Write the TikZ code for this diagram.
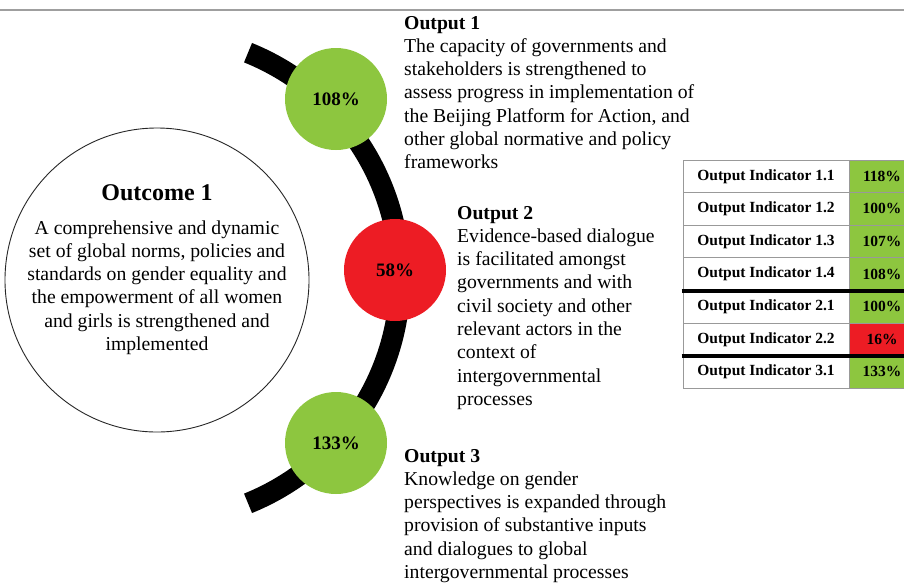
\documentclass[tikz,border=0pt]{standalone}
\usepackage{fontspec}
\setmainfont{Liberation Serif}
\definecolor{okgreen}{HTML}{8DC63F}
\definecolor{lowred}{HTML}{ED1C24}
\newcommand{\ctrline}[1]{\hbox to 300pt{\hfil #1\hfil}}
\begin{document}
\begin{tikzpicture}[x=1pt,y=-1pt,
  body/.style={anchor=base west, inner sep=0, font=\fontsize{19.7}{23.3}\selectfont},
  pct/.style={circle, minimum size=102pt, inner sep=0, font=\fontsize{19}{21}\selectfont\bfseries},
  lcell/.style={draw=gray!80, line width=0.8pt, minimum width=166pt, minimum height=32.6pt, inner sep=0, font=\fontsize{15.5}{17}\selectfont\bfseries},
  vcell/.style={draw=gray!80, line width=0.8pt, minimum width=66pt, minimum height=32.6pt, inner sep=0, font=\fontsize{15.5}{17}\selectfont\bfseries},
  thickrule/.style={line width=4.5pt, black},
  band/.style={line width=21pt, black}]
\useasboundingbox (0,0) rectangle (904,582);
\clip (0,0) rectangle (904,582);
\fill[white] (0,0) rectangle (904,582);
\draw[gray!75, line width=1.5pt] (0,10) -- (904,10);

% outcome circle
\node[circle, draw=black!85, line width=0.9pt, minimum size=304pt, inner sep=0] (outc) at (157,280) {};
\node[anchor=base, inner sep=0, font=\fontsize{24}{28}\selectfont\bfseries] (outt) at (157,200) {Outcome 1};
\node[anchor=base, inner sep=0, font=\fontsize{19.7}{23.3}\selectfont] (outb) at (157,234)
 {\vtop{\ctrline{A comprehensive and dynamic}\ctrline{set of global norms, policies and}\ctrline{standards on gender equality and}\ctrline{the empowerment of all women}\ctrline{and girls is strengthened and}\ctrline{implemented}}};

% arc band
\coordinate (arcC) at (157,278);
\draw[band] (arcC) ++(-68:243) arc[start angle=-68, end angle=68, radius=243];

% percentage circles
\node[pct, fill=okgreen] (p1) at (336,99) {108\%};
\node[pct, fill=lowred] (p2) at (395,270) {58\%};
\node[pct, fill=okgreen] (p3) at (336,443) {133\%};

% output texts
\node[body] (o1) at (404,29) {\vtop{\hbox{\bfseries Output 1}\hbox{The capacity of governments and}\hbox{stakeholders is strengthened to}\hbox{assess progress in implementation of}\hbox{the Beijing Platform for Action, and}\hbox{other global normative and policy}\hbox{frameworks}}};
\node[body] (o2) at (457,219) {\vtop{\hbox{\bfseries Output 2}\hbox{Evidence-based dialogue}\hbox{is facilitated amongst}\hbox{governments and with}\hbox{civil society and other}\hbox{relevant actors in the}\hbox{context of}\hbox{intergovernmental}\hbox{processes}}};
\node[body] (o3) at (404,462) {\vtop{\hbox{\bfseries Output 3}\hbox{Knowledge on gender}\hbox{perspectives is expanded through}\hbox{provision of substantive inputs}\hbox{and dialogues to global}\hbox{intergovernmental processes}}};

% table
\node[lcell] (l11) at (766,176.3) {Output Indicator 1.1};
\node[lcell] (l12) at (766,208.9) {Output Indicator 1.2};
\node[lcell] (l13) at (766,241.5) {Output Indicator 1.3};
\node[lcell] (l14) at (766,274.1) {Output Indicator 1.4};
\node[lcell] (l21) at (766,306.7) {Output Indicator 2.1};
\node[lcell] (l22) at (766,339.3) {Output Indicator 2.2};
\node[lcell] (l31) at (766,371.9) {Output Indicator 3.1};
\node[vcell, fill=okgreen] (v11) at (882,176.3) {118\%};
\node[vcell, fill=okgreen] (v12) at (882,208.9) {100\%};
\node[vcell, fill=okgreen] (v13) at (882,241.5) {107\%};
\node[vcell, fill=okgreen] (v14) at (882,274.1) {108\%};
\node[vcell, fill=okgreen] (v21) at (882,306.7) {100\%};
\node[vcell, fill=lowred] (v22) at (882,339.3) {16\%};
\node[vcell, fill=okgreen] (v31) at (882,371.9) {133\%};
\draw[thickrule] ([xshift=-1pt]l14.south west) -- (v14.south east);
\draw[thickrule] ([xshift=-1pt]l22.south west) -- (v22.south east);
\end{tikzpicture}
\end{document}
